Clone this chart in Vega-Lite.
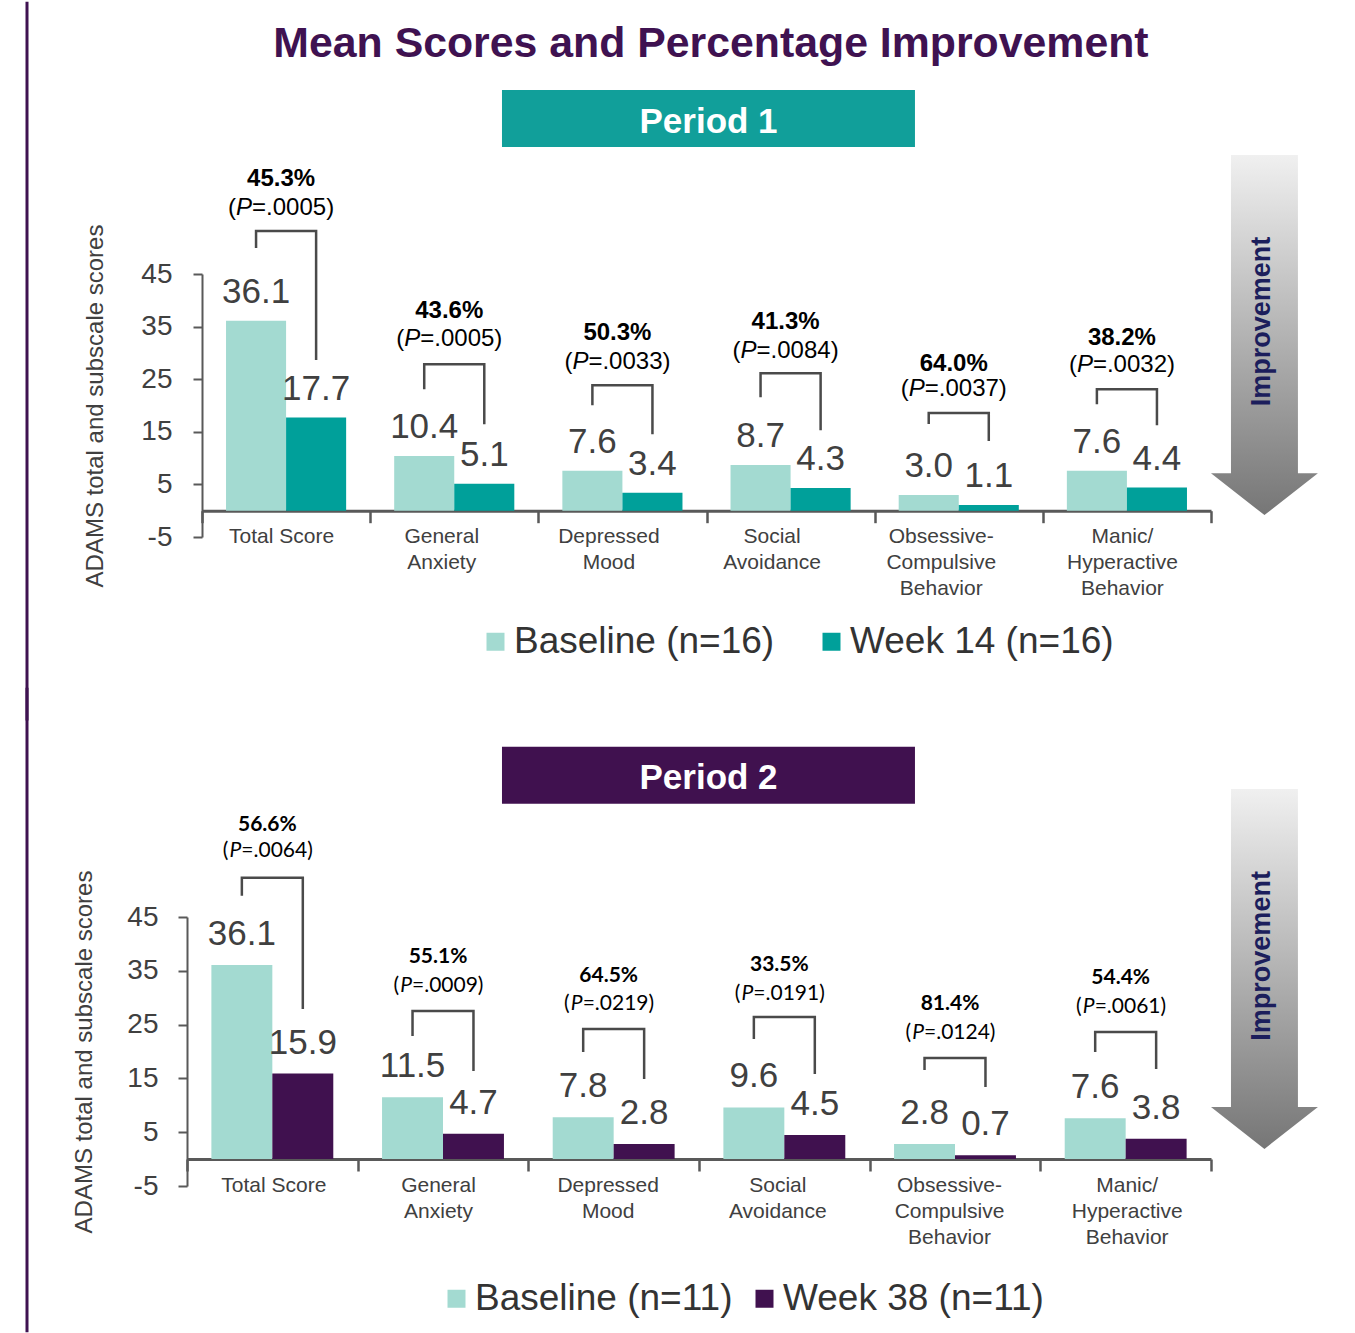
{
"$schema": "https://vega.github.io/schema/vega-lite/v6.json",
"background": "white",
"padding": {"left": 25, "top": 0, "right": 5, "bottom": 0},
"spacing": -37,
"config": {"view": {"stroke": null}, "font": "Liberation Sans", "axis": {"grid": false}},
"datasets": {
"scores1": [
{"cat": "Total Score", "grp": "Baseline (n=16)", "v": 36.1},
{"cat": "Total Score", "grp": "Week 14 (n=16)", "v": 17.7},
{"cat": "General Anxiety", "grp": "Baseline (n=16)", "v": 10.4},
{"cat": "General Anxiety", "grp": "Week 14 (n=16)", "v": 5.1},
{"cat": "Depressed Mood", "grp": "Baseline (n=16)", "v": 7.6},
{"cat": "Depressed Mood", "grp": "Week 14 (n=16)", "v": 3.4},
{"cat": "Social Avoidance", "grp": "Baseline (n=16)", "v": 8.7},
{"cat": "Social Avoidance", "grp": "Week 14 (n=16)", "v": 4.3},
{"cat": "Obsessive-Compulsive Behavior", "grp": "Baseline (n=16)", "v": 3.0},
{"cat": "Obsessive-Compulsive Behavior", "grp": "Week 14 (n=16)", "v": 1.1},
{"cat": "Manic/Hyperactive Behavior", "grp": "Baseline (n=16)", "v": 7.6},
{"cat": "Manic/Hyperactive Behavior", "grp": "Week 14 (n=16)", "v": 4.4}
],
"scores2": [
{"cat": "Total Score", "grp": "Baseline (n=11)", "v": 36.1},
{"cat": "Total Score", "grp": "Week 38 (n=11)", "v": 15.9},
{"cat": "General Anxiety", "grp": "Baseline (n=11)", "v": 11.5},
{"cat": "General Anxiety", "grp": "Week 38 (n=11)", "v": 4.7},
{"cat": "Depressed Mood", "grp": "Baseline (n=11)", "v": 7.8},
{"cat": "Depressed Mood", "grp": "Week 38 (n=11)", "v": 2.8},
{"cat": "Social Avoidance", "grp": "Baseline (n=11)", "v": 9.6},
{"cat": "Social Avoidance", "grp": "Week 38 (n=11)", "v": 4.5},
{"cat": "Obsessive-Compulsive Behavior", "grp": "Baseline (n=11)", "v": 2.8},
{"cat": "Obsessive-Compulsive Behavior", "grp": "Week 38 (n=11)", "v": 0.7},
{"cat": "Manic/Hyperactive Behavior", "grp": "Baseline (n=11)", "v": 7.6},
{"cat": "Manic/Hyperactive Behavior", "grp": "Week 38 (n=11)", "v": 3.8}
],
"br1": [
{"cat": "Total Score", "grp": "Baseline (n=16)", "seq": 1, "y": 49.94},
{"cat": "Total Score", "grp": "Baseline (n=16)", "seq": 2, "y": 53.18},
{"cat": "Total Score", "grp": "Week 14 (n=16)", "seq": 3, "y": 53.18},
{"cat": "Total Score", "grp": "Week 14 (n=16)", "seq": 4, "y": 28.63},
{"cat": "General Anxiety", "grp": "Baseline (n=16)", "seq": 1, "y": 23.11},
{"cat": "General Anxiety", "grp": "Baseline (n=16)", "seq": 2, "y": 27.86},
{"cat": "General Anxiety", "grp": "Week 14 (n=16)", "seq": 3, "y": 27.86},
{"cat": "General Anxiety", "grp": "Week 14 (n=16)", "seq": 4, "y": 16.44},
{"cat": "Depressed Mood", "grp": "Baseline (n=16)", "seq": 1, "y": 20.06},
{"cat": "Depressed Mood", "grp": "Baseline (n=16)", "seq": 2, "y": 23.87},
{"cat": "Depressed Mood", "grp": "Week 14 (n=16)", "seq": 3, "y": 23.87},
{"cat": "Depressed Mood", "grp": "Week 14 (n=16)", "seq": 4, "y": 14.54},
{"cat": "Social Avoidance", "grp": "Baseline (n=16)", "seq": 1, "y": 21.58},
{"cat": "Social Avoidance", "grp": "Baseline (n=16)", "seq": 2, "y": 26.15},
{"cat": "Social Avoidance", "grp": "Week 14 (n=16)", "seq": 3, "y": 26.15},
{"cat": "Social Avoidance", "grp": "Week 14 (n=16)", "seq": 4, "y": 15.30},
{"cat": "Obsessive-Compulsive Behavior", "grp": "Baseline (n=16)", "seq": 1, "y": 16.49},
{"cat": "Obsessive-Compulsive Behavior", "grp": "Baseline (n=16)", "seq": 2, "y": 18.58},
{"cat": "Obsessive-Compulsive Behavior", "grp": "Week 14 (n=16)", "seq": 3, "y": 18.58},
{"cat": "Obsessive-Compulsive Behavior", "grp": "Week 14 (n=16)", "seq": 4, "y": 13.25},
{"cat": "Manic/Hyperactive Behavior", "grp": "Baseline (n=16)", "seq": 1, "y": 20.25},
{"cat": "Manic/Hyperactive Behavior", "grp": "Baseline (n=16)", "seq": 2, "y": 23.11},
{"cat": "Manic/Hyperactive Behavior", "grp": "Week 14 (n=16)", "seq": 3, "y": 23.11},
{"cat": "Manic/Hyperactive Behavior", "grp": "Week 14 (n=16)", "seq": 4, "y": 16.25}
],
"br2": [
{"cat": "Total Score", "grp": "Baseline (n=11)", "seq": 1, "y": 48.93},
{"cat": "Total Score", "grp": "Baseline (n=11)", "seq": 2, "y": 52.28},
{"cat": "Total Score", "grp": "Week 38 (n=11)", "seq": 3, "y": 52.28},
{"cat": "Total Score", "grp": "Week 38 (n=11)", "seq": 4, "y": 27.91},
{"cat": "General Anxiety", "grp": "Baseline (n=11)", "seq": 1, "y": 22.88},
{"cat": "General Anxiety", "grp": "Baseline (n=11)", "seq": 2, "y": 27.53},
{"cat": "General Anxiety", "grp": "Week 38 (n=11)", "seq": 3, "y": 27.53},
{"cat": "General Anxiety", "grp": "Week 38 (n=11)", "seq": 4, "y": 16.37},
{"cat": "Depressed Mood", "grp": "Baseline (n=11)", "seq": 1, "y": 19.91},
{"cat": "Depressed Mood", "grp": "Baseline (n=11)", "seq": 2, "y": 24.19},
{"cat": "Depressed Mood", "grp": "Week 38 (n=11)", "seq": 3, "y": 24.19},
{"cat": "Depressed Mood", "grp": "Week 38 (n=11)", "seq": 4, "y": 14.88},
{"cat": "Social Avoidance", "grp": "Baseline (n=11)", "seq": 1, "y": 22.33},
{"cat": "Social Avoidance", "grp": "Baseline (n=11)", "seq": 2, "y": 26.42},
{"cat": "Social Avoidance", "grp": "Week 38 (n=11)", "seq": 3, "y": 26.42},
{"cat": "Social Avoidance", "grp": "Week 38 (n=11)", "seq": 4, "y": 15.81},
{"cat": "Obsessive-Compulsive Behavior", "grp": "Baseline (n=11)", "seq": 1, "y": 16.56},
{"cat": "Obsessive-Compulsive Behavior", "grp": "Baseline (n=11)", "seq": 2, "y": 18.79},
{"cat": "Obsessive-Compulsive Behavior", "grp": "Week 38 (n=11)", "seq": 3, "y": 18.79},
{"cat": "Obsessive-Compulsive Behavior", "grp": "Week 38 (n=11)", "seq": 4, "y": 13.40},
{"cat": "Manic/Hyperactive Behavior", "grp": "Baseline (n=11)", "seq": 1, "y": 19.91},
{"cat": "Manic/Hyperactive Behavior", "grp": "Baseline (n=11)", "seq": 2, "y": 23.63},
{"cat": "Manic/Hyperactive Behavior", "grp": "Week 38 (n=11)", "seq": 3, "y": 23.63},
{"cat": "Manic/Hyperactive Behavior", "grp": "Week 38 (n=11)", "seq": 4, "y": 16.74}
],
"ann1": [
{"cat": "Total Score", "pct": "45.3%", "pv": "=.0005)", "yPct": 63.07, "yP": 57.56},
{"cat": "General Anxiety", "pct": "43.6%", "pv": "=.0005)", "yPct": 37.95, "yP": 32.62},
{"cat": "Depressed Mood", "pct": "50.3%", "pv": "=.0033)", "yPct": 33.76, "yP": 28.24},
{"cat": "Social Avoidance", "pct": "41.3%", "pv": "=.0084)", "yPct": 35.86, "yP": 30.34},
{"cat": "Obsessive-Compulsive Behavior", "pct": "64.0%", "pv": "=.0037)", "yPct": 27.98, "yP": 23.11},
{"cat": "Manic/Hyperactive Behavior", "pct": "38.2%", "pv": "=.0032)", "yPct": 32.81, "yP": 27.67}
],
"ann2": [
{"cat": "Total Score", "pct": "56.6%", "pv": "=.0064)", "yPct": 62.14, "yP": 57.21},
{"cat": "General Anxiety", "pct": "55.1%", "pv": "=.0009)", "yPct": 37.58, "yP": 32.19},
{"cat": "Depressed Mood", "pct": "64.5%", "pv": "=.0219)", "yPct": 34.05, "yP": 28.84},
{"cat": "Social Avoidance", "pct": "33.5%", "pv": "=.0191)", "yPct": 36.09, "yP": 30.70},
{"cat": "Obsessive-Compulsive Behavior", "pct": "81.4%", "pv": "=.0124)", "yPct": 28.84, "yP": 23.44},
{"cat": "Manic/Hyperactive Behavior", "pct": "54.4%", "pv": "=.0061)", "yPct": 33.67, "yP": 28.28}
],
"decor1": [
{"kind": "edge", "x": -0.15625, "y": 96.77, "y2": -39.90},
{"kind": "title", "x": 0.5117, "y": 86.3, "label": "Mean Scores and Percentage Improvement"},
{"kind": "banner", "x": 0.3076, "x2": 0.7109, "y": 80.0, "y2": 69.16},
{"kind": "bannerText", "x": 0.5093, "y": 71.83, "label": "Period 1"},
{"kind": "arrow", "x": 1.0522, "y": 33.38},
{"kind": "arrowText", "x": 1.0498, "y": 35.95, "label": "Improvement"}
],
"decor2": [
{"kind": "edge", "x": -0.15625, "y": 87.63, "y2": -32.19},
{"kind": "banner", "x": 0.3076, "x2": 0.7109, "y": 76.65, "y2": 66.05},
{"kind": "bannerText", "x": 0.5093, "y": 68.84, "label": "Period 2"},
{"kind": "arrow", "x": 1.0522, "y": 35.35},
{"kind": "arrowText", "x": 1.0498, "y": 37.77, "label": "Improvement"}
]
},
"resolve": {"scale": {"x": "independent", "y": "independent", "xOffset": "independent", "color": "independent"}, "legend": {"color": "independent"}},
"vconcat": [
{
"width": 1024, "height": 263,
"resolve": {"scale": {"x": "independent", "y": "independent"}},
"layer": [
{
"layer": [
{
"data": {"name": "scores1"},
"mark": {"type": "bar"},
"encoding": {
"x": {"field": "cat", "type": "nominal", "scale": {"domain": ["Total Score", "General Anxiety", "Depressed Mood", "Social Avoidance", "Obsessive-Compulsive Behavior", "Manic/Hyperactive Behavior"], "paddingInner": 0, "paddingOuter": 0, "range": [15, 1024]},
"axis": {"orient": "bottom", "offset": -26.3, "title": null, "labelAngle": 0, "labelExpr": "!datum.value ? '' : datum.value == 'Obsessive-Compulsive Behavior' ? ['Obsessive-', 'Compulsive', 'Behavior'] : datum.value == 'Manic/Hyperactive Behavior' ? ['Manic/', 'Hyperactive', 'Behavior'] : datum.value == 'Total Score' ? 'Total Score' : split(datum.value, ' ')",
"labelOffset": {"condition": [{"test": "datum.value == 'General Anxiety'", "value": -13}, {"test": "datum.value == 'Depressed Mood'", "value": -14}, {"test": "datum.value == 'Social Avoidance'", "value": -19}, {"test": "datum.value == 'Obsessive-Compulsive Behavior'", "value": -18}], "value": -5},
"labelFontSize": 21, "labelFont": "Liberation Sans", "labelColor": "#404040", "labelLineHeight": 26, "labelPadding": 3, "tickBand": "extent", "tickSize": 12, "tickColor": "#595959", "tickWidth": 2.5, "domainColor": "#595959", "domainWidth": 3, "labelLimit": 300}},
"xOffset": {"field": "grp", "type": "nominal", "scale": {"paddingInner": 0, "paddingOuter": 0.4}},
"y": {"field": "v", "type": "quantitative", "scale": {"domain": [-5, 45], "nice": false, "zero": false},
"axis": {"values": [-5, 5, 15, 25, 35, 45], "labelExpr": "datum.value < 0 ? '-' + abs(datum.value) : '' + datum.value", "offset": -15, "title": "ADAMS total and subscale scores", "titleFontSize": 24, "titleFont": "Liberation Sans", "titleFontWeight": "normal", "titleColor": "#404040", "titlePadding": 33, "labelFontSize": 28, "labelFont": "Liberation Sans", "labelColor": "#404040", "labelPadding": 21, "tickSize": 9, "tickColor": "#595959", "tickWidth": 2, "domainColor": "#595959", "domainWidth": 2}},
"color": {"field": "grp", "type": "nominal", "scale": {"domain": ["Baseline (n=16)", "Week 14 (n=16)"], "range": ["#a3dad1", "#00a09a"]},
"legend": {"title": null, "orient": "none", "legendX": 290, "legendY": 349, "direction": "horizontal", "symbolType": "square", "symbolSize": 324, "symbolStrokeWidth": 0, "labelFontSize": 37, "labelFont": "Liberation Sans", "labelColor": "#333333", "labelOffset": 0, "columnPadding": 38, "padding": 0, "labelLimit": 400}}
}
},
{
"data": {"name": "scores1"},
"mark": {"type": "text", "baseline": "alphabetic", "dy": -18, "fontSize": 35, "font": "Liberation Sans", "color": "#404040"},
"encoding": {
"x": {"field": "cat", "type": "nominal"},
"xOffset": {"field": "grp", "type": "nominal"},
"y": {"field": "v", "type": "quantitative"},
"text": {"field": "v", "type": "quantitative", "format": ".1f"}
}
},
{
"data": {"name": "br1"},
"mark": {"type": "line", "color": "#4a4a4a", "strokeWidth": 2.5, "strokeCap": "butt", "strokeJoin": "miter"},
"encoding": {
"x": {"field": "cat", "type": "nominal"},
"xOffset": {"field": "grp", "type": "nominal"},
"y": {"field": "y", "type": "quantitative"},
"detail": {"field": "cat", "type": "nominal"},
"order": {"field": "seq", "type": "quantitative"}
}
},
{
"data": {"name": "ann1"},
"mark": {"type": "text", "fontWeight": "bold", "fontSize": 24, "font": "Liberation Sans", "color": "#000000", "dx": -5, "baseline": "middle"},
"encoding": {
"x": {"field": "cat", "type": "nominal"},
"y": {"field": "yPct", "type": "quantitative"},
"text": {"field": "pct", "type": "nominal"}
}
},
{
"data": {"name": "ann1"},
"mark": {"type": "text", "text": "(", "fontSize": 24, "font": "Liberation Sans", "color": "#000000", "dx": -50, "align": "right", "baseline": "middle"},
"encoding": {
"x": {"field": "cat", "type": "nominal"},
"y": {"field": "yP", "type": "quantitative"}
}
},
{
"data": {"name": "ann1"},
"mark": {"type": "text", "text": "P", "fontStyle": "italic", "fontSize": 24, "font": "Liberation Sans", "color": "#000000", "dx": -34, "align": "right", "baseline": "middle"},
"encoding": {
"x": {"field": "cat", "type": "nominal"},
"y": {"field": "yP", "type": "quantitative"}
}
},
{
"data": {"name": "ann1"},
"mark": {"type": "text", "fontSize": 24, "font": "Liberation Sans", "color": "#000000", "dx": -34, "align": "left", "baseline": "middle"},
"encoding": {
"x": {"field": "cat", "type": "nominal"},
"y": {"field": "yP", "type": "quantitative"},
"text": {"field": "pv", "type": "nominal"}
}
}
]
},
{
"data": {"name": "decor1"},
"layer": [
{
"transform": [{"filter": "datum.kind == 'edge'"}],
"mark": {"type": "rule", "color": "#3f1251", "strokeWidth": 3},
"encoding": {
"x": {"field": "x", "type": "quantitative", "scale": {"domain": [0, 1], "nice": false, "zero": false}, "axis": null},
"y": {"field": "y", "type": "quantitative", "scale": {"domain": [-5, 45], "nice": false, "zero": false}, "axis": null},
"y2": {"field": "y2"}
}
},
{
"transform": [{"filter": "datum.kind == 'banner'"}],
"mark": {"type": "rect", "color": "#119f9a"},
"encoding": {
"x": {"field": "x", "type": "quantitative", "scale": {"domain": [0, 1], "nice": false, "zero": false}, "axis": null},
"x2": {"field": "x2"},
"y": {"field": "y", "type": "quantitative", "scale": {"domain": [-5, 45], "nice": false, "zero": false}, "axis": null},
"y2": {"field": "y2"}
}
},
{
"transform": [{"filter": "datum.kind == 'bannerText'"}],
"mark": {"type": "text", "color": "#ffffff", "fontWeight": "bold", "fontSize": 35, "font": "Liberation Sans", "baseline": "alphabetic", "align": "center"},
"encoding": {
"x": {"field": "x", "type": "quantitative", "scale": {"domain": [0, 1], "nice": false, "zero": false}, "axis": null},
"y": {"field": "y", "type": "quantitative", "scale": {"domain": [-5, 45], "nice": false, "zero": false}, "axis": null},
"text": {"field": "label", "type": "nominal"}
}
},
{
"transform": [{"filter": "datum.kind == 'title'"}],
"mark": {"type": "text", "color": "#3f1251", "fontWeight": "bold", "fontSize": 42.8, "font": "Liberation Sans", "baseline": "alphabetic", "align": "center"},
"encoding": {
"x": {"field": "x", "type": "quantitative", "scale": {"domain": [0, 1], "nice": false, "zero": false}, "axis": null},
"y": {"field": "y", "type": "quantitative", "scale": {"domain": [-5, 45], "nice": false, "zero": false}, "axis": null},
"text": {"field": "label", "type": "nominal"}
}
},
{
"transform": [{"filter": "datum.kind == 'arrow'"}],
"mark": {"type": "point", "shape": "M-0.186,-1L0.186,-1L0.186,0.767L0.297,0.767L0,1L-0.297,0.767L-0.186,0.767Z", "size": 129600, "filled": true, "opacity": 1, "strokeWidth": 0, "fill": {"gradient": "linear", "x1": 0, "y1": 0, "x2": 0, "y2": 1, "stops": [{"offset": 0, "color": "#f0f0f0"}, {"offset": 1, "color": "#767676"}]}},
"encoding": {
"x": {"field": "x", "type": "quantitative", "scale": {"domain": [0, 1], "nice": false, "zero": false}, "axis": null},
"y": {"field": "y", "type": "quantitative", "scale": {"domain": [-5, 45], "nice": false, "zero": false}, "axis": null}
}
},
{
"transform": [{"filter": "datum.kind == 'arrowText'"}],
"mark": {"type": "text", "color": "#1c1e5c", "fontWeight": "bold", "fontSize": 27, "font": "Liberation Sans", "angle": 270, "baseline": "middle", "align": "center"},
"encoding": {
"x": {"field": "x", "type": "quantitative", "scale": {"domain": [0, 1], "nice": false, "zero": false}, "axis": null},
"y": {"field": "y", "type": "quantitative", "scale": {"domain": [-5, 45], "nice": false, "zero": false}, "axis": null},
"text": {"field": "label", "type": "nominal"}
}
}
]
}
]
},
{
"width": 1024, "height": 269,
"resolve": {"scale": {"x": "independent", "y": "independent"}},
"layer": [
{
"layer": [
{
"data": {"name": "scores2"},
"mark": {"type": "bar"},
"encoding": {
"x": {"field": "cat", "type": "nominal", "scale": {"domain": ["Total Score", "General Anxiety", "Depressed Mood", "Social Avoidance", "Obsessive-Compulsive Behavior", "Manic/Hyperactive Behavior"], "paddingInner": 0, "paddingOuter": 0},
"axis": {"orient": "bottom", "offset": -27, "title": null, "labelAngle": 0, "labelExpr": "!datum.value ? '' : datum.value == 'Obsessive-Compulsive Behavior' ? ['Obsessive-', 'Compulsive', 'Behavior'] : datum.value == 'Manic/Hyperactive Behavior' ? ['Manic/', 'Hyperactive', 'Behavior'] : datum.value == 'Total Score' ? 'Total Score' : split(datum.value, ' ')",
"labelOffset": {"condition": [{"test": "datum.value == 'General Anxiety'", "value": -5}, {"test": "datum.value == 'Depressed Mood'", "value": -6}, {"test": "datum.value == 'Social Avoidance'", "value": -7}, {"test": "datum.value == 'Obsessive-Compulsive Behavior'", "value": -6}], "value": 1},
"labelFontSize": 21, "labelFont": "Liberation Sans", "labelColor": "#404040", "labelLineHeight": 26, "labelPadding": 3, "tickBand": "extent", "tickSize": 12, "tickColor": "#595959", "tickWidth": 2.5, "domainColor": "#595959", "domainWidth": 3, "labelLimit": 300}},
"xOffset": {"field": "grp", "type": "nominal", "scale": {"paddingInner": 0, "paddingOuter": 0.4}},
"y": {"field": "v", "type": "quantitative", "scale": {"domain": [-5, 45], "nice": false, "zero": false},
"axis": {"values": [-5, 5, 15, 25, 35, 45], "labelExpr": "datum.value < 0 ? '-' + abs(datum.value) : '' + datum.value", "title": "ADAMS total and subscale scores", "titleFontSize": 24, "titleFont": "Liberation Sans", "titleFontWeight": "normal", "titleColor": "#404040", "titlePadding": 30, "labelFontSize": 28, "labelFont": "Liberation Sans", "labelColor": "#404040", "labelPadding": 20, "tickSize": 9, "tickColor": "#595959", "tickWidth": 2, "domainColor": "#595959", "domainWidth": 2}},
"color": {"field": "grp", "type": "nominal", "scale": {"domain": ["Baseline (n=11)", "Week 38 (n=11)"], "range": ["#a3dad1", "#40114f"]},
"legend": {"title": null, "orient": "none", "legendX": 251, "legendY": 363, "direction": "horizontal", "symbolType": "square", "symbolSize": 324, "symbolStrokeWidth": 0, "labelFontSize": 37, "labelFont": "Liberation Sans", "labelColor": "#333333", "labelOffset": 0, "columnPadding": 13, "padding": 0, "labelLimit": 400}}
}
},
{
"data": {"name": "scores2"},
"mark": {"type": "text", "baseline": "alphabetic", "dy": -20, "fontSize": 35, "font": "Liberation Sans", "color": "#404040"},
"encoding": {
"x": {"field": "cat", "type": "nominal"},
"xOffset": {"field": "grp", "type": "nominal"},
"y": {"field": "v", "type": "quantitative"},
"text": {"field": "v", "type": "quantitative", "format": ".1f"}
}
},
{
"data": {"name": "br2"},
"mark": {"type": "line", "color": "#4a4a4a", "strokeWidth": 2.5, "strokeCap": "butt", "strokeJoin": "miter"},
"encoding": {
"x": {"field": "cat", "type": "nominal"},
"xOffset": {"field": "grp", "type": "nominal"},
"y": {"field": "y", "type": "quantitative"},
"detail": {"field": "cat", "type": "nominal"},
"order": {"field": "seq", "type": "quantitative"}
}
},
{
"data": {"name": "ann2"},
"mark": {"type": "text", "fontWeight": "bold", "fontSize": 21, "font": "Lato", "color": "#000000", "dx": -5, "baseline": "middle"},
"encoding": {
"x": {"field": "cat", "type": "nominal"},
"y": {"field": "yPct", "type": "quantitative"},
"text": {"field": "pct", "type": "nominal"}
}
},
{
"data": {"name": "ann2"},
"mark": {"type": "text", "text": "(", "fontSize": 21, "font": "Lato", "color": "#000000", "dx": -44, "align": "right", "baseline": "middle"},
"encoding": {
"x": {"field": "cat", "type": "nominal"},
"y": {"field": "yP", "type": "quantitative"}
}
},
{
"data": {"name": "ann2"},
"mark": {"type": "text", "text": "P", "fontStyle": "italic", "fontSize": 21, "font": "Lato", "color": "#000000", "dx": -31, "align": "right", "baseline": "middle"},
"encoding": {
"x": {"field": "cat", "type": "nominal"},
"y": {"field": "yP", "type": "quantitative"}
}
},
{
"data": {"name": "ann2"},
"mark": {"type": "text", "fontSize": 21, "font": "Lato", "color": "#000000", "dx": -31, "align": "left", "baseline": "middle"},
"encoding": {
"x": {"field": "cat", "type": "nominal"},
"y": {"field": "yP", "type": "quantitative"},
"text": {"field": "pv", "type": "nominal"}
}
}
]
},
{
"data": {"name": "decor2"},
"layer": [
{
"transform": [{"filter": "datum.kind == 'edge'"}],
"mark": {"type": "rule", "color": "#3f1251", "strokeWidth": 3},
"encoding": {
"x": {"field": "x", "type": "quantitative", "scale": {"domain": [0, 1], "nice": false, "zero": false}, "axis": null},
"y": {"field": "y", "type": "quantitative", "scale": {"domain": [-5, 45], "nice": false, "zero": false}, "axis": null},
"y2": {"field": "y2"}
}
},
{
"transform": [{"filter": "datum.kind == 'banner'"}],
"mark": {"type": "rect", "color": "#40114f"},
"encoding": {
"x": {"field": "x", "type": "quantitative", "scale": {"domain": [0, 1], "nice": false, "zero": false}, "axis": null},
"x2": {"field": "x2"},
"y": {"field": "y", "type": "quantitative", "scale": {"domain": [-5, 45], "nice": false, "zero": false}, "axis": null},
"y2": {"field": "y2"}
}
},
{
"transform": [{"filter": "datum.kind == 'bannerText'"}],
"mark": {"type": "text", "color": "#ffffff", "fontWeight": "bold", "fontSize": 35, "font": "Liberation Sans", "baseline": "alphabetic", "align": "center"},
"encoding": {
"x": {"field": "x", "type": "quantitative", "scale": {"domain": [0, 1], "nice": false, "zero": false}, "axis": null},
"y": {"field": "y", "type": "quantitative", "scale": {"domain": [-5, 45], "nice": false, "zero": false}, "axis": null},
"text": {"field": "label", "type": "nominal"}
}
},
{
"transform": [{"filter": "datum.kind == 'arrow'"}],
"mark": {"type": "point", "shape": "M-0.186,-1L0.186,-1L0.186,0.767L0.297,0.767L0,1L-0.297,0.767L-0.186,0.767Z", "size": 129600, "filled": true, "opacity": 1, "strokeWidth": 0, "fill": {"gradient": "linear", "x1": 0, "y1": 0, "x2": 0, "y2": 1, "stops": [{"offset": 0, "color": "#f0f0f0"}, {"offset": 1, "color": "#767676"}]}},
"encoding": {
"x": {"field": "x", "type": "quantitative", "scale": {"domain": [0, 1], "nice": false, "zero": false}, "axis": null},
"y": {"field": "y", "type": "quantitative", "scale": {"domain": [-5, 45], "nice": false, "zero": false}, "axis": null}
}
},
{
"transform": [{"filter": "datum.kind == 'arrowText'"}],
"mark": {"type": "text", "color": "#1c1e5c", "fontWeight": "bold", "fontSize": 27, "font": "Liberation Sans", "angle": 270, "baseline": "middle", "align": "center"},
"encoding": {
"x": {"field": "x", "type": "quantitative", "scale": {"domain": [0, 1], "nice": false, "zero": false}, "axis": null},
"y": {"field": "y", "type": "quantitative", "scale": {"domain": [-5, 45], "nice": false, "zero": false}, "axis": null},
"text": {"field": "label", "type": "nominal"}
}
}
]
}
]
}
]
}
